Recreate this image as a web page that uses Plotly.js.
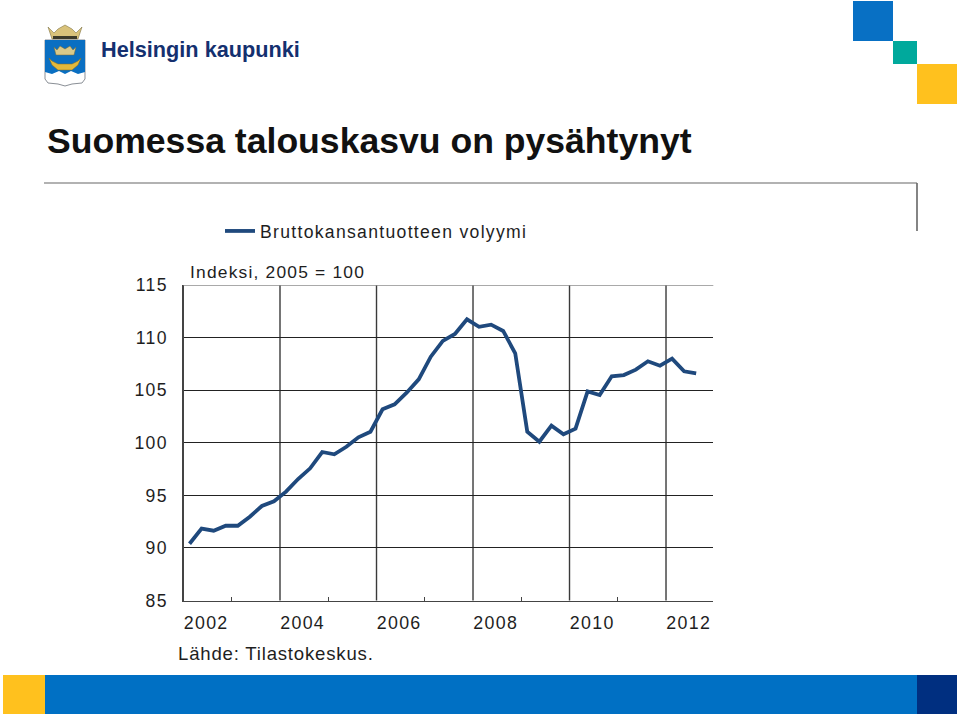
<!DOCTYPE html>
<html><head><meta charset="utf-8">
<script src="https://cdn.plot.ly/plotly-3.0.1.min.js"></script>
<style>html,body{margin:0;padding:0;background:#fff}#c{width:960px;height:716px}
#c .xtick text,#c .ytick text,#c .legendtext{letter-spacing:1.3px}
#c .annotation[data-index="2"] text{letter-spacing:1.2px}
#c .annotation[data-index="3"] text{letter-spacing:0.8px}
#c .legend, #c .legend *{clip-path:none !important}
</style>
</head><body><div id="c"></div>
<script>
const seriesName = 'Bruttokansantuotteen volyymi';
const quarters = [
 2002.125,2002.375,2002.625,2002.875,2003.125,2003.375,2003.625,2003.875,
 2004.125,2004.375,2004.625,2004.875,2005.125,2005.375,2005.625,2005.875,
 2006.125,2006.375,2006.625,2006.875,2007.125,2007.375,2007.625,2007.875,
 2008.125,2008.375,2008.625,2008.875,2009.125,2009.375,2009.625,2009.875,
 2010.125,2010.375,2010.625,2010.875,2011.125,2011.375,2011.625,2011.875,
 2012.125,2012.375,2012.625];
const gdp = [
 90.4,91.83,91.64,92.11,92.11,92.97,93.99,94.43,
 95.35,96.55,97.57,99.12,98.9,99.62,100.52,101.05,
 103.18,103.66,104.76,106.03,108.18,109.68,110.34,111.74,
 111.03,111.23,110.63,108.51,101.05,100.1,101.62,100.8,
 101.34,104.89,104.54,106.32,106.44,106.95,107.75,107.33,
 107.99,106.79,106.6];
const yTicks = [85,90,95,100,105,110,115];
const labelPos = [2002.47,2004.47,2006.47,2008.47,2010.47,2012.47];
const labelText = ['2002','2004','2006','2008','2010','2012'];
const gridYears = [2004,2006,2008,2010,2012];
const oddYears = [2003,2005,2007,2009,2011];

const W=960,H=716;
const fx=x=>x/W, fy=y=>1-y/H;
const font='"Liberation Sans", Arial, sans-serif';
const ink='#1e1e1e';
function rect(x0,y0,x1,y1,color){return {type:'rect',xref:'paper',yref:'paper',x0:fx(x0),x1:fx(x1),y0:fy(y1),y1:fy(y0),fillcolor:color,line:{width:0},layer:'above'};}
function seg(x0,y0,x1,y1,color,w){return {type:'line',xref:'paper',yref:'paper',x0:fx(x0),x1:fx(x1),y0:fy(y0),y1:fy(y1),line:{color:color,width:w},layer:'above'};}
function poly(pts,fill,lineColor,lw){
  const d='M'+pts.map(p=>fx(p[0]).toFixed(5)+','+fy(p[1]).toFixed(5)).join(' L')+' Z';
  return {type:'path',xref:'paper',yref:'paper',path:d,fillcolor:fill,line:{color:lineColor||fill,width:lw||0},layer:'above'};
}
function txt(x,y,t,size,color,bold,boxWidth){const a={xref:'paper',yref:'paper',x:fx(x),y:fy(y),text:bold?'<b>'+t+'</b>':t,showarrow:false,xanchor:'left',yanchor:'middle',align:'left',font:{family:font,size:size,color:color},borderpad:0,borderwidth:0};if(boxWidth)a.width=boxWidth;return a;}

const shapes=[
 ...gridYears.map(v=>({type:'line',xref:'x',yref:'paper',x0:v,x1:v,y0:fy(600.5),y1:fy(285),line:{color:'#3a3a3a',width:1.4},layer:'below'})),
 // lighter top edge of the plot
 {type:'line',xref:'paper',yref:'y',x0:fx(183.5),x1:fx(713.3),y0:115,y1:115,line:{color:'#8c8c8c',width:1.6},layer:'above'},
 // page frame
 seg(44,183,917,183,'#666666',1.2), seg(917,183,917,231,'#666666',1.6),
 // corner squares
 rect(853,1,893,41,'#0870C4'), rect(893,41,917,64,'#00A99C'), rect(917,64,957,104,'#FFC11E'),
 // bottom band
 rect(3,675,45,714,'#FFC11E'), rect(45,675,917,714,'#0070C4'), rect(917,675,957,714,'#002F80'),
 // coat of arms
 poly([[45,40],[85,40],[85,79],[82,83],[72,84],[65,86],[58,84],[48,83],[45,79]],'#FFFFFF','#8a8f96',1),
 poly([[45,40],[85,40],[85,72],[78,74],[71,71],[65,74],[59,71],[52,74],[45,72]],'#0A6FC2'),
 poly([[49,58],[52,65],[58,70],[72,70],[78,65],[81,58],[78,61],[72,64],[58,64],[52,61]],'#E3B93B','#8a6d1a',0.5),
 poly([[54,47],[57,50],[60,46],[65,49],[70,46],[73,50],[76,47],[74,55],[56,55]],'#D9C98A','#7a6a30',0.5),
 poly([[48,27],[54,33],[58,29],[65,25],[72,29],[76,33],[82,27],[78,39],[52,39]],'#D9C27A','#6f6230',0.5),
 rect(53,36,77,39,'#3c3a2a'),
];
const annotations=[
 txt(46.5,141,'Suomessa talouskasvu on pysähtynyt',35.6,'#111111',true),
 txt(100.5,50,'Helsingin kaupunki',21.7,'#14306F',true),
 txt(190,271.5,'Indeksi, 2005 = 100',17.4,ink,false,240),
 txt(178,653,'Lähde: Tilastokeskus.',18.6,ink,false,260),
];

const data=[{x:quarters,y:gdp,type:'scatter',mode:'lines',name:seriesName,
  line:{color:'#1F497D',width:3.8,shape:'linear'},hoverinfo:'x+y'}];
const layout={
 width:W,height:H,margin:{l:0,r:0,t:0,b:0,pad:0},paper_bgcolor:'#fff',plot_bgcolor:'#fff',
 font:{family:font,color:ink},
 showlegend:true,
 legend:{x:fx(220),y:fy(231),xanchor:'left',yanchor:'middle',bgcolor:'rgba(0,0,0,0)',borderwidth:0,font:{family:font,size:17.6,color:ink},itemwidth:30,tracegroupgap:0},
 xaxis:{domain:[fx(183.5),fx(713.3)],range:[2002,2012.98],tickmode:'array',tickvals:labelPos,ticktext:labelText,
   ticks:'',ticklen:0,showgrid:false,zeroline:false,showline:true,linecolor:'#444444',linewidth:1.4,
   ticklabelstandoff:6,
   tickfont:{family:font,size:17.8,color:ink},
   minor:{tickmode:'array',tickvals:oddYears,ticks:'inside',ticklen:4,tickcolor:'#444444',tickwidth:1,showgrid:false},
   fixedrange:true},
 yaxis:{domain:[fy(600.5),fy(285)],range:[85,115],tickmode:'array',tickvals:yTicks,ticks:'',ticklen:0,
   ticklabelstandoff:11,
   showgrid:true,gridcolor:'#222222',gridwidth:1,zeroline:false,showline:true,linecolor:'#444444',linewidth:1.2,
   tickfont:{family:font,size:17.6,color:ink},fixedrange:true},
 shapes,annotations
};
Plotly.newPlot('c',data,layout,{displayModeBar:false,staticPlot:true});
</script></body></html>
